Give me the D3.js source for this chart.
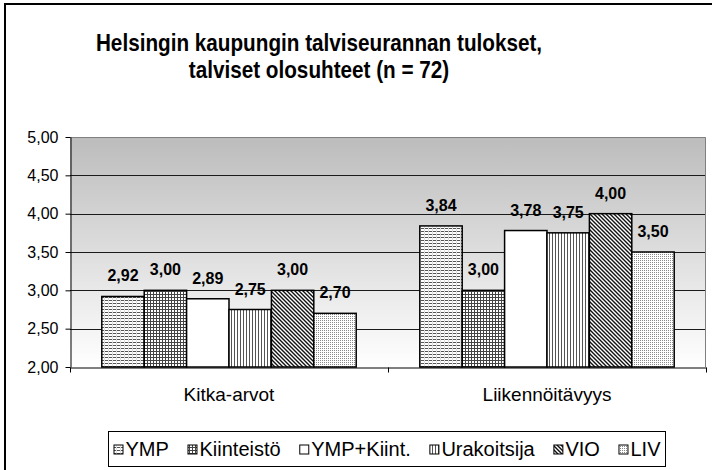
<!DOCTYPE html>
<html>
<head>
<meta charset="utf-8">
<script src="https://cdn.jsdelivr.net/npm/d3@7"></script>
<style>
  html, body { margin: 0; padding: 0; background: #fff; }
  svg { display: block; font-family: "Liberation Sans", Arial, sans-serif; }
</style>
</head>
<body>
<svg id="chart" width="712" height="470"></svg>
<script>
// ---- data ----
const categories = ["Kitka-arvot", "Liikennöitävyys"];
const seriesNames = ["YMP", "Kiinteistö", "YMP+Kiint.", "Urakoitsija", "VIO", "LIV"];
const kitkaValues = [2.92, 3.00, 2.89, 2.75, 3.00, 2.70];
const liikennoitavyysValues = [3.84, 3.00, 3.78, 3.75, 4.00, 3.50];
const yTickValues = [2.00, 2.50, 3.00, 3.50, 4.00, 4.50, 5.00];
const titleLines = ["Helsingin kaupungin talviseurannan tulokset,", "talviset olosuhteet (n = 72)"];

const valuesByCategory = [kitkaValues, liikennoitavyysValues];
const rows = [];
categories.forEach((c, ci) => seriesNames.forEach((s, si) => rows.push({cat: c, series: s, value: valuesByCategory[ci][si]})));

const fmt = v => d3.format(".2f")(v).replace(".", ",");

const svg = d3.select("#chart");
const defs = svg.append("defs");

// plot background gradient
const grad = defs.append("linearGradient").attr("id", "bg").attr("x1", 0).attr("y1", 0).attr("x2", 0).attr("y2", 1);
grad.append("stop").attr("offset", "0%").attr("stop-color", "#bcbcbc");
grad.append("stop").attr("offset", "100%").attr("stop-color", "#ffffff");

// patterns
function pat(id, w, h, draw) {
  const p = defs.append("pattern").attr("id", id).attr("patternUnits", "userSpaceOnUse")
    .attr("width", w).attr("height", h);
  p.append("rect").attr("width", w).attr("height", h).attr("fill", "#fff");
  draw(p);
}
pat("p0", 4, 3, p => { // narrow horizontal
  p.append("rect").attr("x", 0).attr("y", 0).attr("width", 4).attr("height", 1).attr("fill", "#555");
  p.append("rect").attr("x", 0).attr("y", 0).attr("width", 1).attr("height", 3).attr("fill", "#ddd");
});
pat("p1", 3, 3, p => { // small grid
  p.append("rect").attr("x", 0).attr("y", 0).attr("width", 3).attr("height", 1).attr("fill", "#444");
  p.append("rect").attr("x", 0).attr("y", 0).attr("width", 1).attr("height", 3).attr("fill", "#444");
});
pat("p2", 4, 4, p => {});
pat("p3", 3, 4, p => { // narrow vertical
  p.append("rect").attr("x", 0).attr("y", 0).attr("width", 1).attr("height", 4).attr("fill", "#555");
});
pat("p4", 4, 4, p => { // wide downward diagonal
  p.append("path").attr("d", "M-1,-1 L5,5 M-1,3 L1,5 M3,-1 L5,1").attr("stroke", "#111").attr("stroke-width", 1.4);
});
pat("p5", 2, 2, p => { // dotted
  p.append("rect").attr("x", 0).attr("y", 0).attr("width", 1).attr("height", 1).attr("fill", "#8a8a8a");
});
const color = d3.scaleOrdinal().domain(seriesNames).range(seriesNames.map((d, i) => `url(#p${i})`));

// outer chart border
svg.append("rect").attr("x", 5).attr("y", 4).attr("width", 730).attr("height", 490)
  .attr("fill", "none").attr("stroke", "#000").attr("stroke-width", 2);

// title (slightly condensed, like the original rendering)
const title = svg.append("g").attr("transform", "translate(319,0) scale(0.9,1)")
  .append("text").attr("text-anchor", "middle").attr("font-weight", "bold")
  .attr("font-size", 23).attr("fill", "#000");
titleLines.forEach((t, i) => title.append("tspan").attr("x", 0).attr("y", 51 + i * 27).text(t));

// scales
const plot = {left: 70, right: 706, top: 137, bottom: 367};
const x = d3.scaleBand().domain(categories).range([plot.left, plot.right]).padding(0);
const xs = d3.scaleBand().domain(seriesNames).range([0, x.bandwidth()]).paddingInner(0).paddingOuter(0.75);
const y = d3.scaleLinear().domain([2, 5]).range([plot.bottom, plot.top]);

// plot area background
svg.append("rect").attr("x", plot.left).attr("y", plot.top)
  .attr("width", plot.right - plot.left).attr("height", plot.bottom - plot.top)
  .attr("fill", "url(#bg)");

// gridlines
svg.append("g").selectAll("line").data(yTickValues.filter(v => v > 2 && v < 5)).join("line")
  .attr("x1", plot.left).attr("x2", plot.right)
  .attr("y1", d => Math.round(y(d)) + 0.5).attr("y2", d => Math.round(y(d)) + 0.5)
  .attr("stroke", "#1a1a1a").attr("stroke-width", 1);
// plot border top/right (gray)
svg.append("path")
  .attr("d", `M${plot.left},${plot.top + 0.5}H${plot.right - 0.5}V${plot.bottom}`)
  .attr("fill", "none").attr("stroke", "#808080").attr("stroke-width", 1);

// bars
const bars = svg.append("g");
bars.selectAll("rect").data(rows).join("rect")
  .attr("x", d => x(d.cat) + xs(d.series))
  .attr("y", d => y(d.value))
  .attr("width", xs.bandwidth())
  .attr("height", d => y(2) - y(d.value))
  .attr("fill", d => color(d.series))
  .attr("stroke", "#000").attr("stroke-width", 1.5);

// data labels
svg.append("g").selectAll("text").data(rows).join("text")
  .attr("x", d => x(d.cat) + xs(d.series) + xs.bandwidth() / 2)
  .attr("y", d => y(d.value) - 15)
  .attr("text-anchor", "middle").attr("font-weight", "bold").attr("font-size", 16)
  .text(d => fmt(d.value));

// y axis
const yAxis = svg.append("g").attr("transform", `translate(${plot.left + 0.5},0)`)
  .call(d3.axisLeft(y).tickValues(yTickValues).tickSize(5).tickSizeOuter(0).tickPadding(7).tickFormat(fmt));
yAxis.selectAll("text").attr("font-size", 16).attr("font-family", "Liberation Sans, Arial, sans-serif").attr("fill", "#000");
yAxis.selectAll("line").attr("stroke", "#000");
yAxis.select(".domain").attr("stroke", "#000");

// x axis
const xAxis = svg.append("g").attr("transform", `translate(0,${plot.bottom + 0.5})`)
  .call(d3.axisBottom(x).tickSize(0).tickSizeOuter(0).tickPadding(20));
xAxis.selectAll("text").attr("font-size", 19).attr("font-family", "Liberation Sans, Arial, sans-serif").attr("fill", "#000");
xAxis.select(".domain").attr("stroke", "#000");
const boundaries = categories.map(c => x(c)).concat([x.range()[1]]);
xAxis.append("g").selectAll("line").data(boundaries).join("line")
  .attr("x1", d => Math.round(d) + 0.5).attr("x2", d => Math.round(d) + 0.5)
  .attr("y1", 0).attr("y2", 5).attr("stroke", "#000");

// legend
const legend = svg.append("g");
legend.append("rect").attr("x", 108.5).attr("y", 431.5).attr("width", 557).attr("height", 35)
  .attr("fill", "#fff").attr("stroke", "#000").attr("stroke-width", 1);
const lfs = 20;
const items = legend.selectAll("g.item").data(seriesNames).join("g").attr("class", "item");
items.append("rect").attr("width", 9).attr("height", 9).attr("y", 445)
  .attr("fill", d => color(d)).attr("stroke", "#000").attr("stroke-width", 1);
items.append("text").attr("font-size", lfs).attr("y", 456).attr("fill", "#000").text(d => d);
// layout legend entries horizontally
let widths = [];
items.select("text").each(function () { widths.push(this.getComputedTextLength()); });
const sw = 9, swGap = 3;
const total = widths.reduce((a, b) => a + b, 0) + seriesNames.length * (sw + swGap);
const gap = (557 - 10 - total) / (seriesNames.length - 1);
let cx = 108.5 + 5;
items.each(function (d, i) {
  const g = d3.select(this);
  g.select("rect").attr("x", cx + 0.5);
  g.select("text").attr("x", cx + sw + swGap);
  cx += sw + swGap + widths[i] + gap;
});
</script>
</body>
</html>
